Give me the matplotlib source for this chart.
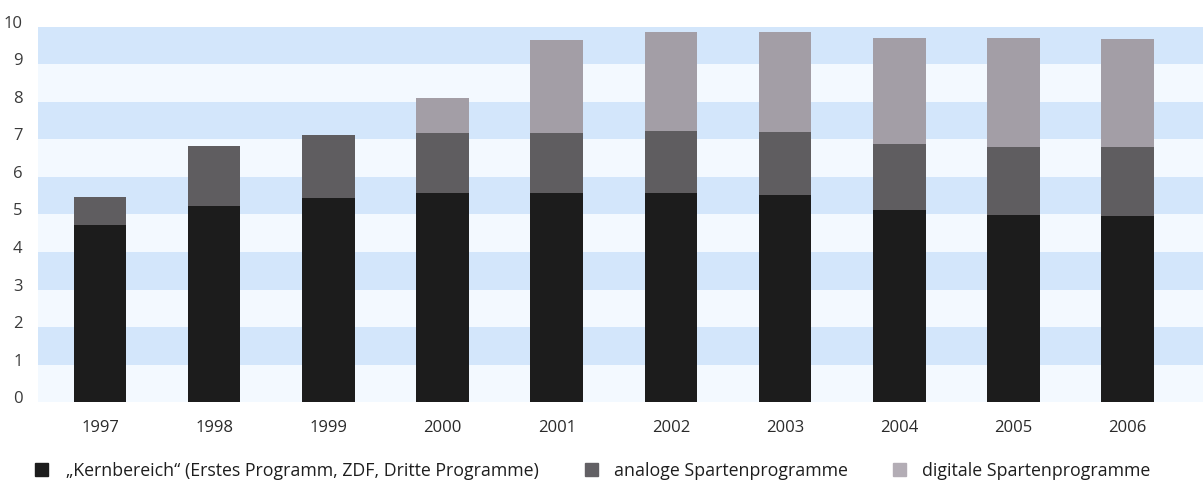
import matplotlib
matplotlib.use("Agg")
import matplotlib.pyplot as plt
from matplotlib.patches import Rectangle
from matplotlib.transforms import ScaledTranslation

plt.rcParams['font.family'] = ['Open Sans', 'DejaVu Sans']

# Sendeanteile (Stunden in Tausend) je Jahr
years = ['1997', '1998', '1999', '2000', '2001', '2002', '2003', '2004', '2005', '2006']
kern = [4.72, 5.23, 5.43, 5.57, 5.57, 5.56, 5.53, 5.13, 4.99, 4.97]
analog = [0.75, 1.60, 1.69, 1.60, 1.60, 1.67, 1.68, 1.76, 1.82, 1.82]
digital = [0.00, 0.00, 0.00, 0.94, 2.48, 2.63, 2.65, 2.82, 2.89, 2.89]

labels = ['\u201eKernbereich\u201c (Erstes Programm, ZDF, Dritte Programme)',
          'analoge Spartenprogramme', 'digitale Spartenprogramme']
colors = ['#1c1c1c', '#5f5d60', '#a39ea6']
legend_colors = ['#1c1c1c', '#626064', '#b3adb5']

fig = plt.figure(figsize=(12.03, 4.81), dpi=100)
ax = fig.add_axes([0.0316, 0.162, 0.9684, 0.780])
ax.set_facecolor('#f3f9ff')

# blaue Streifen hinter den Balken
for lo in range(1, 10, 2):
    ax.axhspan(lo, lo + 1, color='#d3e6fb', lw=0, zorder=0)

x = list(range(len(years)))
w = 0.46
bottom2 = [a + b for a, b in zip(kern, analog)]
ax.bar(x, kern, w, color=colors[0], zorder=2)
ax.bar(x, analog, w, bottom=kern, color=colors[1], zorder=2)
ax.bar(x, digital, w, bottom=bottom2, color=colors[2], zorder=2)

ax.set_xlim(-0.543, 9.66)
ax.set_ylim(0, 10)
for s in ax.spines.values():
    s.set_visible(False)

ax.set_xticks(x)
ax.set_xticklabels(years, fontsize=12, color='#2a2a2a')
ax.tick_params(axis='x', length=0, pad=12)
ax.set_yticks(range(0, 11))
ax.set_yticklabels([str(v) for v in range(0, 11)], fontsize=12, color='#3a3a3a')
ax.tick_params(axis='y', length=0, pad=11)
for lbl in ax.get_yticklabels():
    lbl.set_transform(lbl.get_transform() + ScaledTranslation(0, 6 / 100, fig.dpi_scale_trans))

# Legende unten
W, H = 1203.0, 481.0
box_x = [35, 585, 893]
text_x = [66, 614, 922]
for bx, tx, c, t in zip(box_x, text_x, legend_colors, labels):
    fig.patches.append(Rectangle((bx / W, 1 - 477 / H), 13 / W, 13 / H,
                                 transform=fig.transFigure, color=c))
    fig.text(tx / W, 1 - 471 / H, t, fontsize=12.8, color='#1e1e1e',
             va='center', ha='left')

fig.savefig('out.png', dpi=100)
